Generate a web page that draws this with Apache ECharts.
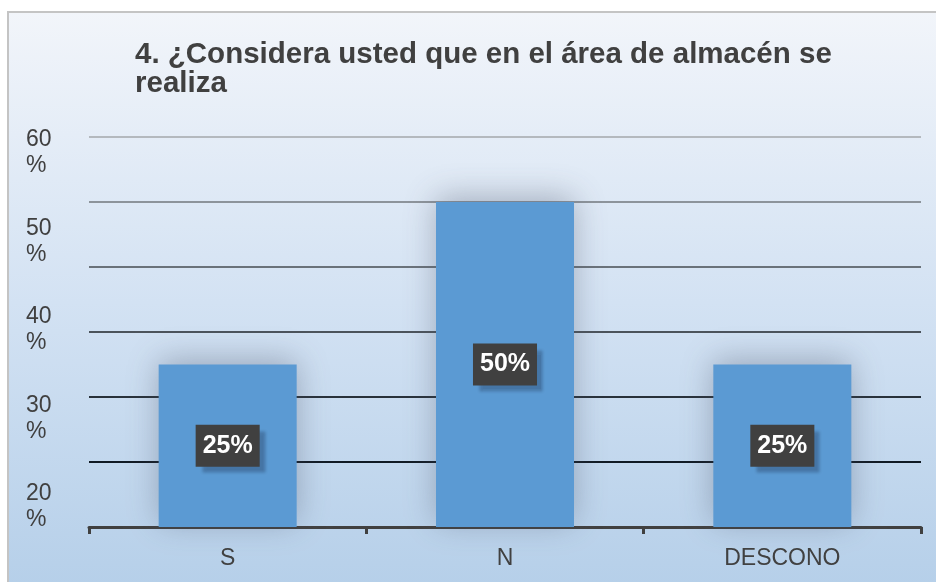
<!DOCTYPE html>
<html>
<head>
<meta charset="utf-8">
<script src="https://cdn.jsdelivr.net/npm/echarts@6/dist/echarts.min.js"></script>
<style>
html,body{margin:0;padding:0;background:#fff;}
#chart{width:936px;height:582px;}
</style>
</head>
<body>
<div id="chart"></div>
<script>
// ---- data ----
var categories = ['S', 'N', 'DESCONO'];
var values = [25, 50, 25];
var barLabels = ['25%', '50%', '25%'];
var yTickLabels = [60, 50, 40, 30, 20];
var titleText = '4. ¿Considera usted que en el área de almacén se\nrealiza';

var chart = echarts.init(document.getElementById('chart'), null, {renderer: 'canvas'});
var font = '"Liberation Sans", Arial, sans-serif';

var option = {
  backgroundColor: '#ffffff',
  animation: false,
  graphic: [{
    type: 'rect',
    z: -10,
    silent: true,
    shape: {x: 8, y: 12, width: 940, height: 580},
    style: {
      fill: new echarts.graphic.LinearGradient(0, 0, 0, 1, [
        {offset: 0, color: '#f2f5fa'},
        {offset: 0.5, color: '#d3e2f3'},
        {offset: 1, color: '#b5cfe9'}
      ]),
      stroke: '#c4c4c4',
      lineWidth: 2
    }
  }],
  title: {
    text: titleText,
    left: 130,
    top: 35,
    textStyle: {
      fontFamily: font,
      fontSize: 29.5,
      fontWeight: 'bold',
      color: '#404040',
      lineHeight: 29
    }
  },
  grid: {left: 89, right: 15, top: 137, bottom: 55},
  xAxis: {
    type: 'category',
    data: categories,
    axisLine: {lineStyle: {color: '#404040', width: 3}},
    axisTick: {show: true, length: 7, lineStyle: {color: '#404040', width: 3}},
    axisLabel: {fontFamily: font, fontSize: 23, color: '#404040', margin: 20}
  },
  yAxis: [{
    type: 'value',
    min: 0, max: 60, interval: 10,
    axisLine: {show: false},
    axisTick: {show: false},
    axisLabel: {show: false},
    splitLine: {
      show: true,
      lineStyle: {
        width: 2,
        color: ['#404040', '#101a24', '#28313a', '#4b535b', '#6a727a', '#8d949b', '#b4b9be']
      }
    }
  }, {
    type: 'value',
    position: 'left',
    min: 17.74, max: 61.81,
    axisLine: {show: false},
    axisTick: {show: false},
    splitLine: {show: false},
    axisLabel: {
      customValues: yTickLabels,
      formatter: function (v) { return v + '\n%'; },
      fontFamily: font,
      fontSize: 23,
      lineHeight: 26,
      color: '#404040',
      align: 'left',
      margin: 63
    }
  }],
  series: [{
    type: 'bar',
    yAxisIndex: 0,
    data: values,
    barWidth: 138,
    itemStyle: {
      color: '#5b9ad3',
      shadowBlur: 30,
      shadowColor: 'rgba(70,80,100,0.38)',
      shadowOffsetY: -5
    },
    label: {
      show: true,
      position: 'inside',
      formatter: function (p) { return barLabels[p.dataIndex]; },
      fontFamily: font,
      fontSize: 25,
      fontWeight: 'bold',
      color: '#ffffff',
      backgroundColor: '#404040',
      padding: [8, 7, 6, 7],
      lineHeight: 28,
      shadowColor: 'rgba(30,50,80,0.35)',
      shadowOffsetX: 6,
      shadowOffsetY: 6,
      shadowBlur: 3
    }
  }]
};
chart.setOption(option);
</script>
</body>
</html>
